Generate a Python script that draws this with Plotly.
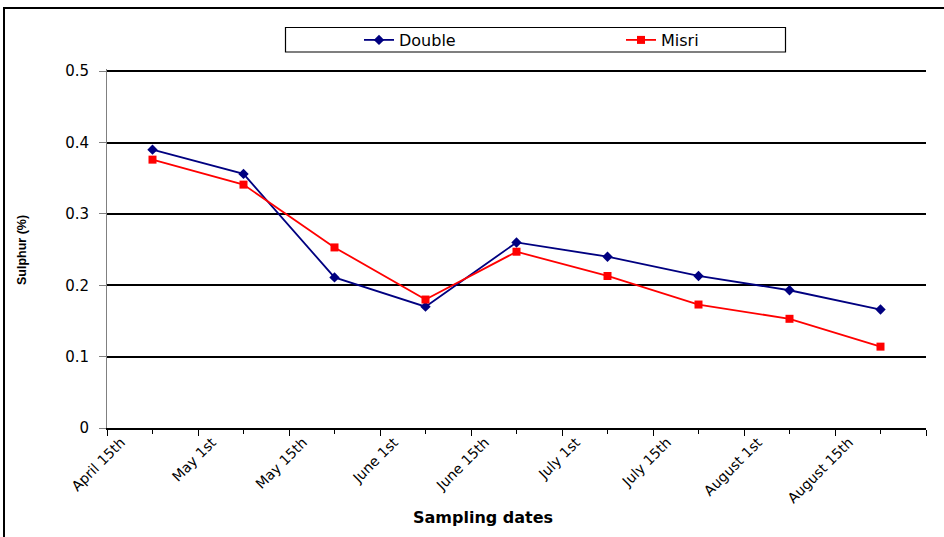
import plotly.graph_objects as go

dates = ["April 15th", "May 1st", "May 15th", "June 1st", "June 15th",
         "July 1st", "July 15th", "August 1st", "August 15th"]
double = [0.390, 0.356, 0.211, 0.170, 0.260, 0.240, 0.213, 0.193, 0.166]
misri = [0.376, 0.341, 0.253, 0.180, 0.247, 0.213, 0.173, 0.153, 0.114]

# category centres sit halfway between the labelled boundary ticks
xpos = [i + 0.5 for i in range(len(dates))]

fig = go.Figure()
fig.add_trace(go.Scatter(x=xpos, y=double, name="Double", mode="lines+markers",
                         line=dict(color="#000080", width=1.8),
                         marker=dict(symbol="diamond", size=8, color="#000080")))
fig.add_trace(go.Scatter(x=xpos, y=misri, name="Misri", mode="lines+markers",
                         line=dict(color="#FF0000", width=1.8),
                         marker=dict(symbol="square", size=8, color="#FF0000")))

YTOP = 0.503
L, R, T, B = 107, 18, 69, 109
W, H = 944, 537
pw, ph = W - L - R, H - T - B

def px(x):
    return (x - L) / pw

def py(y):
    return (H - B - y) / ph

fig.update_layout(
    width=W, height=H,
    margin=dict(l=L, r=R, t=T, b=B),
    paper_bgcolor="white", plot_bgcolor="white",
    font=dict(family="DejaVu Sans", size=13, color="black"),
    showlegend=True,
    legend=dict(orientation="h", x=px(359), xanchor="left",
                y=py(40), yanchor="middle",
                borderwidth=0, bgcolor="rgba(0,0,0,0)",
                font=dict(size=16), entrywidth=217, entrywidthmode="pixels"),
    xaxis=dict(range=[0, len(dates)], tickmode="array",
               tickvals=list(range(len(dates) + 1)),
               ticktext=dates + [""], tickangle=-45,
               ticks="outside", ticklen=6, tickcolor="black",
               ticklabelshift=14, ticklabelstandoff=-7,
               tickfont=dict(size=14),
               showline=True, linecolor="black", linewidth=1.5,
               showgrid=False, zeroline=False,
               minor=dict(tickvals=xpos, ticks="outside", ticklen=4, tickcolor="black")),
    yaxis=dict(range=[0, YTOP], tickmode="array",
               tickvals=[0, 0.1, 0.2, 0.3, 0.4, 0.5],
               ticktext=["0", "0.1", "0.2", "0.3", "0.4", "0.5"],
               ticks="outside", ticklen=7, tickcolor="gray",
               ticklabelstandoff=7, tickfont=dict(size=15),
               showline=True, linecolor="gray", linewidth=1,
               showgrid=True, gridcolor="black", gridwidth=1.5,
               zeroline=False),
    annotations=[
        dict(text="<b>Sampling dates</b>", xref="paper", yref="paper",
             x=px(483), y=py(517), xanchor="center", yanchor="middle",
             showarrow=False, font=dict(family="DejaVu Sans", size=16)),
        dict(text="<b>Sulphur (%)</b>", xref="paper", yref="paper",
             x=px(22), y=py(250), xanchor="center", yanchor="middle",
             textangle=-90, showarrow=False,
             font=dict(family="Liberation Sans", size=12.5)),
    ],
    shapes=[
        dict(type="rect", xref="paper", yref="paper",
             x0=px(4), x1=px(W + 6), y0=py(H + 6), y1=py(8),
             line=dict(color="black", width=2), layer="below"),
        dict(type="rect", xref="paper", yref="paper",
             x0=px(285.5), x1=px(785.5), y0=py(52), y1=py(27.5),
             line=dict(color="black", width=1.2), fillcolor="white", layer="below"),
    ],
)

fig.write_html("out.html", config={"displayModeBar": False},
               post_script="document.body.style.margin='0';")
